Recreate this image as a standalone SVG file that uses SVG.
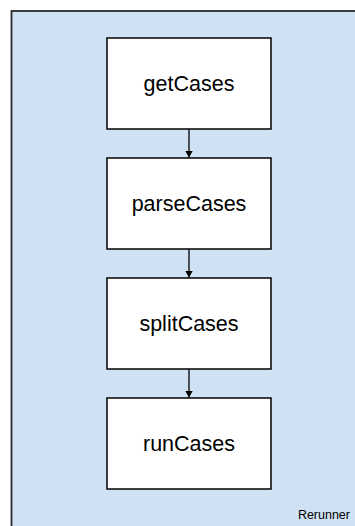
<svg xmlns="http://www.w3.org/2000/svg" width="355" height="526" viewBox="0 0 355 526">
<defs>
<style>
.box{fill:#ffffff;stroke:#000000;stroke-width:1.5}
.lbl{font-family:"Liberation Sans",Arial,sans-serif;font-size:21.5px;fill:#000000;text-anchor:middle;dominant-baseline:central}
.edge{stroke:#000000;stroke-width:1.3;fill:none;marker-end:url(#ah)}
</style>
<marker id="ah" viewBox="0 0 10 10" refX="10" refY="5" markerWidth="7" markerHeight="8" markerUnits="userSpaceOnUse" orient="auto" preserveAspectRatio="none">
<path d="M0,0 L10,5 L0,10 z" fill="#000000"/>
</marker>
</defs>
<g id="Rerunner">
<rect x="11.5" y="11" width="360" height="530" fill="#cfe2f3" stroke="#2b2b2b" stroke-width="1.8"/>
<text x="350" y="519" font-family="Liberation Sans, Arial, sans-serif" font-size="12.5" text-anchor="end" fill="#000000">Rerunner</text>
</g>
<g id="getCases">
<rect class="box" x="107" y="38" width="164" height="91"/>
<text class="lbl" x="189" y="84">getCases</text>
</g>
<g id="parseCases">
<rect class="box" x="107" y="158" width="164" height="91"/>
<text class="lbl" x="189" y="204">parseCases</text>
</g>
<g id="splitCases">
<rect class="box" x="107" y="278" width="164" height="91"/>
<text class="lbl" x="189" y="324">splitCases</text>
</g>
<g id="runCases">
<rect class="box" x="107" y="398" width="164" height="91"/>
<text class="lbl" x="189" y="444">runCases</text>
</g>
<g id="connectors">
<line class="edge" x1="189" y1="129" x2="189" y2="157.5"/>
<line class="edge" x1="189" y1="249" x2="189" y2="277.5"/>
<line class="edge" x1="189" y1="369" x2="189" y2="397.5"/>
</g>
</svg>
